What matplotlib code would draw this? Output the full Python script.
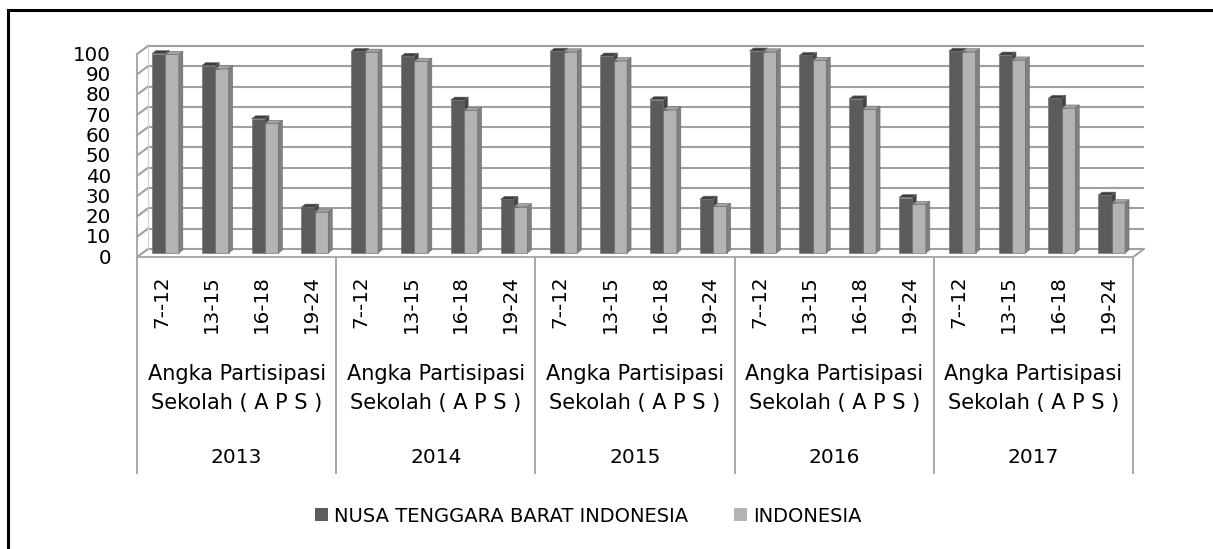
import matplotlib
matplotlib.use("Agg")
import matplotlib.pyplot as plt
from matplotlib.patches import Polygon, Patch
from matplotlib.lines import Line2D

# --- data -------------------------------------------------------------
years = ["2013", "2014", "2015", "2016", "2017"]
age_groups = ["7--12", "13-15", "16-18", "19-24"]
group_label = "Angka Partisipasi\nSekolah ( A P S )"
series_names = ["NUSA TENGGARA BARAT INDONESIA", "INDONESIA"]

ntb = [
    [98.2, 92.3, 66.1, 22.6],
    [99.3, 96.9, 75.3, 26.4],
    [99.4, 97.0, 75.5, 26.5],
    [99.5, 97.3, 75.9, 27.3],
    [99.4, 97.5, 76.2, 28.5],
]
indonesia = [
    [97.81, 90.81, 63.84, 20.14],
    [98.92, 94.44, 70.31, 22.82],
    [99.09, 94.72, 70.61, 22.95],
    [99.09, 94.88, 70.83, 23.93],
    [99.14, 95.08, 71.42, 24.77],
]
yticks = list(range(0, 101, 10))

# --- geometry (pixel layout of the 1213x549 picture) -----------------
W, H, DPI = 1213, 549, 100
PX_CAT, X0_PX = 49.8, 142.5      # bar plane: x=0 at 142.5 px
PX_VAL, Y0_PX = 2.03, 253.0      # bar plane: y=0 at 253 px
XLIM, YLIM = (-0.4, 20.4), (-4.0, 104.0)
DX, DY = 0.11, 2.0               # half depth of the 3D box (data units)
BDX, BDY = 0.08, 1.5             # bar depth

C_NTB, C_NTB_TOP, C_NTB_SIDE = "#5b5b5b", "#3e3e3e", "#444444"
C_IND, C_IND_TOP, C_IND_SIDE = "#b3b3b3", "#a2a2a2", "#808080"
C_GRID, C_AX = "#a0a0a0", "#a8a8a8"
FONT = "DejaVu Sans"

fig = plt.figure(figsize=(W / DPI, H / DPI), dpi=DPI)
left = X0_PX + XLIM[0] * PX_CAT
right = X0_PX + XLIM[1] * PX_CAT
bottom = Y0_PX - YLIM[0] * PX_VAL
top = Y0_PX - YLIM[1] * PX_VAL
ax = fig.add_axes([left / W, 1 - bottom / H, (right - left) / W, (bottom - top) / H])
ax.set_xlim(*XLIM)
ax.set_ylim(*YLIM)
ax.axis("off")

ncat = len(years) * len(age_groups)

# back wall gridlines + left wall slants
for v in yticks:
    ax.plot([DX, ncat + DX], [v + DY, v + DY], color=C_GRID, lw=1.5, zorder=1,
            solid_capstyle="butt")
    ax.plot([-DX, DX], [v - DY, v + DY], color=C_GRID, lw=1.5, zorder=1)
# left wall vertical edges
ax.plot([-DX, -DX], [-DY, 100 - DY], color=C_AX, lw=1.4, zorder=1)
ax.plot([DX, DX], [DY, 100 + DY], color="#d0d0d0", lw=0.8, zorder=1)
# floor: front edge and right slant
ax.plot([-DX, ncat - DX], [-DY, -DY], color=C_AX, lw=1.4, zorder=2, clip_on=False)
ax.plot([ncat - DX, ncat + DX], [-DY, DY], color=C_GRID, lw=1.4, zorder=1)

# y tick labels
for v in yticks:
    ax.text(-DX - 0.52, v - 2.6, str(v), ha="right", va="center", fontsize=14.3,
            family=FONT, clip_on=False)


def bar3d(x0, w, v, front, topc, side):
    ax.bar(x0, v, width=w, align="edge", color=front, edgecolor="#6a6a6a",
           linewidth=0.4, zorder=3)
    ax.add_patch(Polygon([(x0, v), (x0 + BDX, v + BDY), (x0 + w + BDX, v + BDY), (x0 + w, v)],
                         closed=True, facecolor=topc, edgecolor="#6a6a6a", lw=0.4, zorder=3))
    ax.add_patch(Polygon([(x0 + w, 0), (x0 + w + BDX, BDY), (x0 + w + BDX, v + BDY), (x0 + w, v)],
                         closed=True, facecolor=side, edgecolor="#6a6a6a", lw=0.4, zorder=3))


for g, yr in enumerate(years):
    for j, ag in enumerate(age_groups):
        k = g * len(age_groups) + j
        bar3d(k + 0.19, 0.27, ntb[g][j], C_NTB, C_NTB_TOP, C_NTB_SIDE)
        bar3d(k + 0.46, 0.27, indonesia[g][j], C_IND, C_IND_TOP, C_IND_SIDE)
        ax.text(k + 0.5 - DX, -10.8, ag, rotation=90, ha="center", va="top",
                fontsize=14.3, family=FONT, clip_on=False)
    gx = g * len(age_groups) + len(age_groups) / 2 - DX
    ax.text(gx, -66.8, group_label, ha="center", va="center", fontsize=15,
            family=FONT, linespacing=1.6, clip_on=False)
    ax.text(gx, -100.8, yr, ha="center", va="center", fontsize=14.5,
            family=FONT, clip_on=False)

# category separators
for g in range(len(years) + 1):
    x = g * len(age_groups) - DX
    ax.plot([x, x], [-DY, -108.6], color=C_AX, lw=1.4, zorder=2, clip_on=False)

# legend
handles = [Patch(facecolor=C_NTB, edgecolor="none"), Patch(facecolor=C_IND, edgecolor="none")]
fig.legend(handles, series_names, loc="center", bbox_to_anchor=(0.485, 0.060), ncol=2,
           frameon=False, prop={"family": FONT, "size": 14}, handlelength=0.65,
           handleheight=0.65, handletextpad=0.3, columnspacing=2.4)

# outer chart border (only left and top visible in the crop)
fig.add_artist(Line2D([8 / W, 1], [1 - 10 / H, 1 - 10 / H], color="black", lw=2.2,
                      transform=fig.transFigure))
fig.add_artist(Line2D([8 / W, 8 / W], [0, 1 - 10 / H], color="black", lw=2.2,
                      transform=fig.transFigure))

fig.savefig("out.png", dpi=DPI, facecolor="white")
